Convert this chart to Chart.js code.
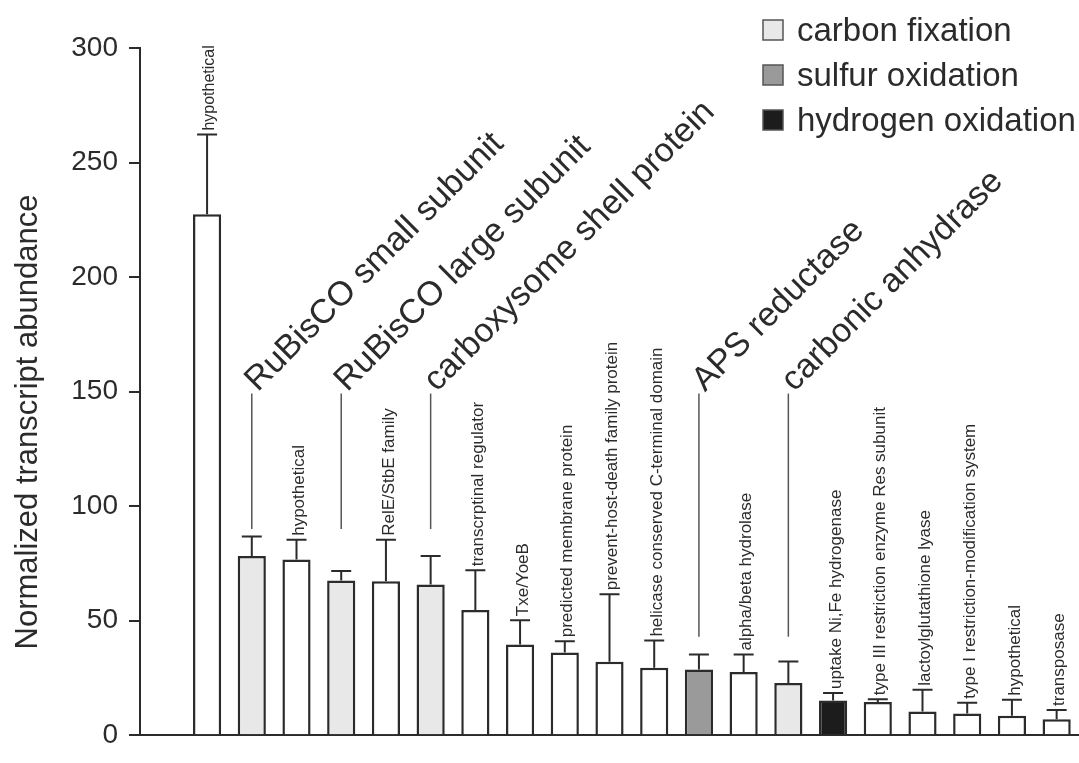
<!DOCTYPE html>
<html>
<head>
<meta charset="utf-8">
<script src="https://cdn.jsdelivr.net/npm/chart.js@4.4.1/dist/chart.umd.min.js"></script>
<style>
  html, body { margin: 0; padding: 0; background: #fff; }
  #wrap { width: 1079px; height: 763px; }
</style>
</head>
<body>
<div id="wrap"><canvas id="transcriptCanvas" width="1079" height="763"></canvas></div>
<script>
// Datos
const geneNames = [
  'hypothetical', 'RuBisCO small subunit', 'hypothetical', 'RuBisCO large subunit',
  'RelE/StbE family', 'carboxysome shell protein', 'transcrptinal regulator', 'Txe/YoeB',
  'predicted membrane protein', 'prevent-host-death family protein',
  'helicase conserved C-terminal domain', 'APS reductase', 'alpha/beta hydrolase',
  'carbonic anhydrase', 'uptake Ni,Fe hydrogenase', 'type III restriction enzyme Res subunit',
  'lactoylglutathione lyase', 'type I restriction-modification system', 'hypothetical', 'transposase'
];
const abundance = [227.4, 78.2, 76.7, 67.5, 67.2, 65.8, 54.7, 39.6, 36.1, 32.1,
                   29.5, 28.7, 27.6, 22.8, 15.1, 14.5, 10.3, 9.5, 8.5, 7.0];
const errorUp = [34.8, 8.5, 8.6, 4.2, 18.1, 12.4, 17.3, 10.6, 4.9, 29.4,
                 11.8, 6.5, 7.6, 9.4, 3.3, 1.2, 9.5, 4.7, 7.0, 4.0];
const pathway = ['none', 'carbon', 'none', 'carbon', 'none', 'carbon', 'none', 'none', 'none', 'none',
                 'none', 'sulfur', 'none', 'carbon', 'hydrogen', 'none', 'none', 'none', 'none', 'none'];
const bigLabel = [false, true, false, true, false, true, false, false, false, false,
                  false, true, false, true, false, false, false, false, false, false];
const yTicks = [0, 50, 100, 150, 200, 250, 300];
const legendNames = ['carbon fixation', 'sulfur oxidation', 'hydrogen oxidation'];
const legendKeys = ['carbon', 'sulfur', 'hydrogen'];
const yTitle = 'Normalized transcript abundance';

const FONT = '"Liberation Sans", Arial, Helvetica, sans-serif';
const INK = '#2b2b2b';

function getColorForPathway(p) {
  if (p === 'carbon') {
    return '#e8e8e8'; // gris claro
  } else if (p === 'sulfur') {
    return '#9a9a9a'; // gris medio
  } else if (p === 'hydrogen') {
    return '#1c1c1c'; // casi negro
  }
  return '#ffffff';
}

// barras de error (solo hacia arriba)
const errorBarPlugin = {
  id: 'errorBars',
  afterDatasetsDraw(chart) {
    const ctx = chart.ctx;
    const yScale = chart.scales.y;
    const bars = chart.getDatasetMeta(0).data;
    ctx.save();
    ctx.strokeStyle = INK;
    ctx.lineWidth = 2;
    bars.forEach((bar, i) => {
      const top = yScale.getPixelForValue(abundance[i] + errorUp[i]);
      ctx.beginPath();
      ctx.moveTo(bar.x, bar.y);
      ctx.lineTo(bar.x, top);
      ctx.moveTo(bar.x - 10, top);
      ctx.lineTo(bar.x + 10, top);
      ctx.stroke();
    });
    ctx.restore();
  }
};

// etiquetas de genes, lineas guia, titulo del eje y leyenda
const labelPlugin = {
  id: 'geneLabels',
  afterDraw(chart) {
    const ctx = chart.ctx;
    const yScale = chart.scales.y;
    const bars = chart.getDatasetMeta(0).data;
    ctx.save();
    ctx.fillStyle = INK;

    bars.forEach((bar, i) => {
      if (bigLabel[i]) {
        const lineTop = yScale.getPixelForValue(150) + 2;
        const lineBottom = yScale.getPixelForValue(i < 8 ? 90 : 43);
        ctx.strokeStyle = '#555';
        ctx.lineWidth = 1.5;
        ctx.beginPath();
        ctx.moveTo(bar.x, lineTop);
        ctx.lineTo(bar.x, lineBottom);
        ctx.stroke();

        ctx.save();
        ctx.translate(bar.x + 6, lineTop - 1);
        ctx.rotate(-Math.PI / 4);
        ctx.font = '34px ' + FONT;
        ctx.textAlign = 'left';
        ctx.textBaseline = 'alphabetic';
        ctx.fillText(geneNames[i], 0, 0);
        ctx.restore();
      } else {
        const top = yScale.getPixelForValue(abundance[i] + errorUp[i]);
        ctx.save();
        ctx.translate(bar.x + 3, top - 4);
        ctx.rotate(-Math.PI / 2);
        ctx.font = (i === 0 ? '16px ' : '17px ') + FONT;
        ctx.textAlign = 'left';
        ctx.textBaseline = 'middle';
        ctx.fillText(geneNames[i], 0, 0);
        ctx.restore();
      }
    });

    // titulo del eje y
    ctx.save();
    ctx.translate(37, 422);
    ctx.rotate(-Math.PI / 2);
    ctx.font = '31px ' + FONT;
    ctx.textAlign = 'center';
    ctx.textBaseline = 'alphabetic';
    ctx.fillText(yTitle, 0, 0);
    ctx.restore();

    // leyenda
    legendNames.forEach((name, k) => {
      const y0 = 20 + k * 45;
      ctx.fillStyle = getColorForPathway(legendKeys[k]);
      ctx.fillRect(763, y0, 20, 20);
      ctx.strokeStyle = '#555';
      ctx.lineWidth = 1.5;
      ctx.strokeRect(763, y0, 20, 20);
      ctx.fillStyle = INK;
      ctx.font = '33px ' + FONT;
      ctx.textAlign = 'left';
      ctx.textBaseline = 'alphabetic';
      ctx.fillText(name, 797, y0 + 21);
    });
    ctx.restore();
  }
};

const ctx = document.getElementById('transcriptCanvas').getContext('2d');

const chartData = {
  datasets: [{
    label: 'transcripts',
    data: abundance.map((v, i) => ({ x: i, y: v })),
    backgroundColor: pathway.map(getColorForPathway),
    borderColor: INK,
    borderWidth: 2.5,
    borderSkipped: 'start',
    categoryPercentage: 1,
    barPercentage: 0.63
  }]
};

const options = {
  responsive: false,
  animation: false,
  devicePixelRatio: 1,
  layout: { padding: { top: 48, left: 0, right: 0, bottom: 0 } },
  plugins: {
    legend: { display: false },
    tooltip: { enabled: false }
  },
  scales: {
    x: {
      type: 'linear',
      offset: false,
      min: -1.5,
      max: 19.5,
      ticks: { display: false },
      grid: { display: true, drawOnChartArea: false, drawTicks: false, offset: false },
      border: { color: INK, width: 2 },
      afterFit: s => { s.height = 8; }
    },
    y: {
      min: 0,
      max: 300,
      afterBuildTicks: s => { s.ticks = yTicks.map(v => ({ value: v })); },
      ticks: {
        font: { family: FONT, size: 28 },
        color: INK,
        padding: 11
      },
      grid: { drawOnChartArea: false, tickLength: 11, color: INK, lineWidth: 2 },
      border: { color: INK, width: 2 },
      afterFit: s => { s.width = 140; }
    }
  }
};

const transcriptChart = new Chart(ctx, {
  type: 'bar',
  data: chartData,
  options: options,
  plugins: [errorBarPlugin, labelPlugin]
});
</script>
</body>
</html>
